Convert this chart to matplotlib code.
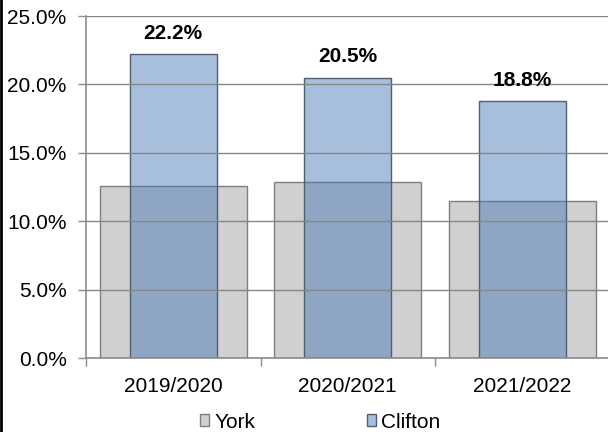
import numpy as np
import matplotlib
matplotlib.use("Agg")
import matplotlib.pyplot as plt
from matplotlib.patches import Patch
from matplotlib.ticker import FuncFormatter

plt.rcParams['font.family'] = ['Liberation Sans', 'DejaVu Sans']

years = ['2019/2020', '2020/2021', '2021/2022']
york = [12.6, 12.9, 11.5]
clifton = [22.2, 20.5, 18.8]

york_col = '#d0d0d0'
clifton_col = (68/255, 119/255, 183/255, 0.47)

fig = plt.figure(figsize=(6.08, 4.32), dpi=100)
ax = fig.add_axes([86/608, (432-358)/432, 523.5/608, 342/432])

x = np.arange(len(years))
ax.bar(x, york, width=0.84, color=york_col, edgecolor='#7f7f7f', linewidth=1.0, zorder=1)
ax.bar(x, clifton, width=0.5, color=clifton_col, edgecolor='#4f5f70', linewidth=1.0, zorder=2)

for xi, v in zip(x, clifton):
    ax.annotate(f'{v:.1f}%', (xi, v), xytext=(0, 8), textcoords='offset points',
                ha='center', va='bottom', fontsize=15, fontweight='bold')

ax.set_xlim(-0.5, 2.5)
ax.set_ylim(0, 25)
ax.set_yticks(np.arange(0, 25.1, 5))
ax.yaxis.set_major_formatter(FuncFormatter(lambda v, p: f'{v:.1f}%'))
ax.set_xticks(x)
ax.set_xticklabels(years)
ax.set_xticks([-0.5, 0.5, 1.5, 2.5], minor=True)
ax.tick_params(axis='x', which='major', length=0, pad=14, labelsize=15)
ax.tick_params(axis='x', which='minor', length=6, color='#8c8c8c', width=1)
ax.tick_params(axis='y', length=6, color='#8c8c8c', width=1, pad=8, labelsize=15)

ax.grid(axis='y', color='#868686', linewidth=1.0, zorder=3)
ax.set_axisbelow(False)
for s in ['top', 'right']:
    ax.spines[s].set_visible(False)
for s in ['left', 'bottom']:
    ax.spines[s].set_color('#8c8c8c')
    ax.spines[s].set_linewidth(1.2)

handles = [Patch(facecolor=york_col, edgecolor='#7f7f7f', label='York'),
           Patch(facecolor='#a7bfdd', edgecolor='#4f5f70', label='Clifton')]
fig.legend(handles=handles, loc='center', bbox_to_anchor=(320/608, 1 - 422/432),
           ncol=2, frameon=False, fontsize=15, handlelength=0.45, handleheight=0.45,
           handletextpad=0.25, columnspacing=5.35)

# thin frame on the left edge
fig.add_artist(plt.Line2D([0.0015, 0.0015], [0, 1], color='black', linewidth=2,
                          transform=fig.transFigure))

fig.savefig('out.png', dpi=100)
